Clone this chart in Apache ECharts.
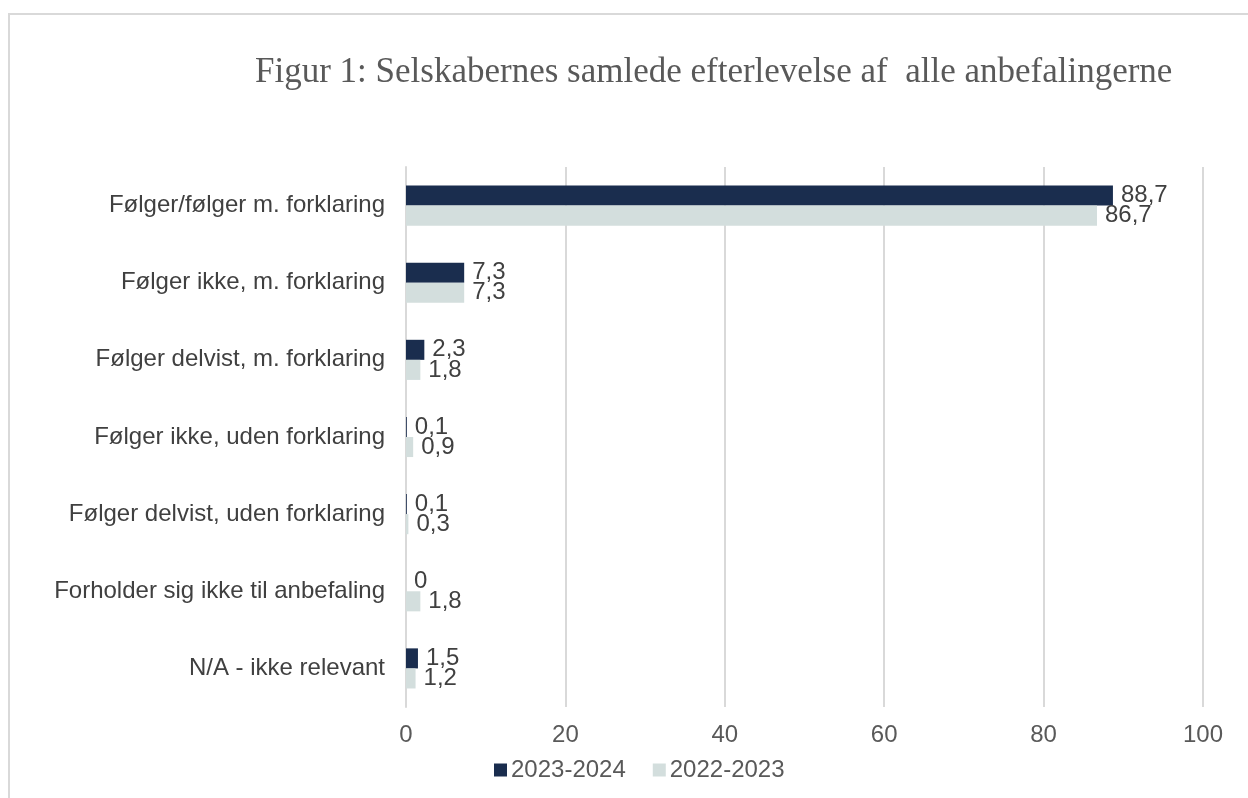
<!DOCTYPE html>
<html><head><meta charset="utf-8">
<script src="https://cdn.jsdelivr.net/npm/echarts@6/dist/echarts.min.js"></script>
<style>html,body{margin:0;padding:0;background:#fff}#c{width:1248px;height:798px}</style>
</head><body><div id="c"></div>
<script>
const titleText = 'Figur 1: Selskabernes samlede efterlevelse af  alle anbefalingerne';
const categories = ['Følger/følger m. forklaring','Følger ikke, m. forklaring','Følger delvist, m. forklaring','Følger ikke, uden forklaring','Følger delvist, uden forklaring','Forholder sig ikke til anbefaling','N/A - ikke relevant'];
const seriesNames = ['2023-2024','2022-2023'];
const values2324 = [88.7, 7.3, 2.3, 0.1, 0.1, 0, 1.5];
const values2223 = [86.7, 7.3, 1.8, 0.9, 0.3, 1.8, 1.2];
const colors = ['#1a2d4e','#d3dedd'];

const chart = echarts.init(document.getElementById('c'));
const fmt = v => String(v).replace('.', ',');
const FONT = 'Liberation Sans, Arial, sans-serif';
const lbl = {show:true, position:'right', distance:8, fontFamily:FONT, fontSize:24, color:'#404040', formatter: p => fmt(p.value)};
chart.setOption({
  animation:false,
  title:{text:titleText, left:250, top:50, textStyle:{fontFamily:'Liberation Serif, serif', fontWeight:'normal', fontSize:35, color:'#595959'}},
  graphic:[{type:'rect', shape:{x:9,y:14,width:1400,height:1000}, style:{fill:'none', stroke:'#d9d9d9', lineWidth:2}}],
  grid:{left:406, right:45, top:167, bottom:91},
  legend:{bottom:11, left:489, itemWidth:13, itemHeight:13, itemGap:27, icon:'rect', textStyle:{fontFamily:FONT, fontSize:24, color:'#595959', padding:[0,0,0,-1]}, data:seriesNames},
  xAxis:{type:'value', min:0, max:100, interval:20, axisLine:{show:false}, axisTick:{show:false}, splitLine:{lineStyle:{color:'#d9d9d9', width:2}}, axisLabel:{fontFamily:FONT, fontSize:24, color:'#595959', margin:16}},
  yAxis:{type:'category', data:categories, inverse:true, axisLine:{lineStyle:{color:'#d9d9d9', width:2}}, axisTick:{length:8, lineStyle:{color:'#d9d9d9', width:2}}, axisLabel:{fontFamily:FONT, fontSize:24, color:'#404040', margin:21}},
  series:[
    {name:seriesNames[0], type:'bar', data:values2324, itemStyle:{color:colors[0]}, barGap:'0%', barCategoryGap:'48%', label:Object.assign({}, lbl)},
    {name:seriesNames[1], type:'bar', data:values2223, itemStyle:{color:colors[1]}, barGap:'0%', barCategoryGap:'48%', label:Object.assign({}, lbl)}
  ]
});
</script></body></html>
